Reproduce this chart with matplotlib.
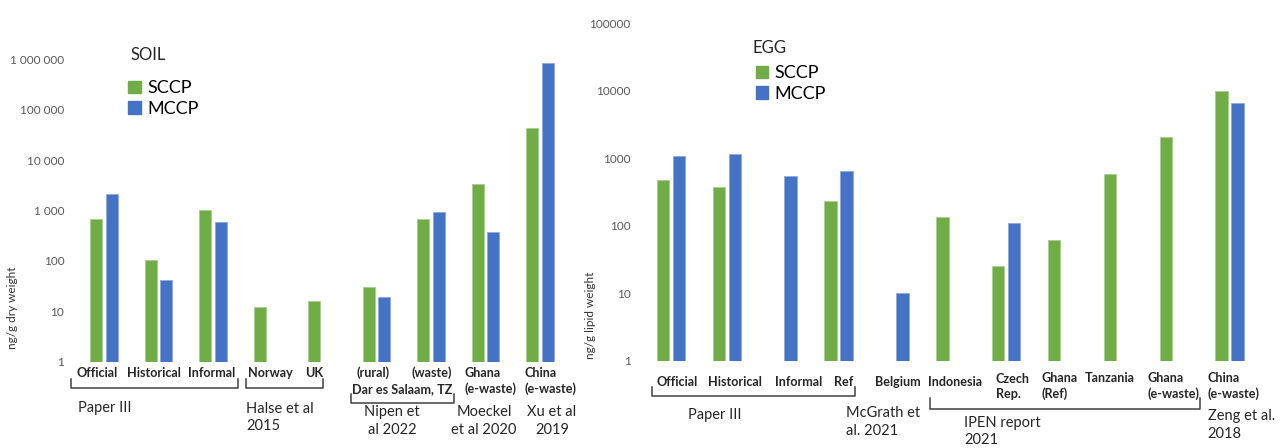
import numpy as np
import matplotlib
matplotlib.use('Agg')
import matplotlib.pyplot as plt
from matplotlib.patches import Patch
from matplotlib.transforms import blended_transform_factory

plt.rcParams['font.family'] = ['Lato', 'DejaVu Sans']

GREEN = '#70AD47'
BLUE = '#4472C4'
GREY = '#595959'
DARK = '#262626'

# soil concentrations, ng/g dry weight
soil_sites = ['Official', 'Historical', 'Informal', 'Norway', 'UK',
              '(rural)', '(waste)', 'Ghana\n(e-waste)', 'China\n(e-waste)']
soil_sccp = [690, 104, 1000, 12, 16, 31, 670, 3300, 43000]
soil_mccp = [2100, 42, 585, np.nan, np.nan, 19, 950, 380, 855000]
soil_ticks = [1, 10, 100, 1000, 10000, 100000, 1000000]
soil_ticklabels = ['1', '10', '100', '1 000', '10 000', '100 000', '1 000 000']

# egg concentrations, ng/g lipid weight
egg_sites = ['Official', 'Historical', 'Informal', 'Ref', 'Belgium', 'Indonesia',
             'Czech\nRep.', 'Ghana\n(Ref)', 'Tanzania', 'Ghana\n(e-waste)',
             'China\n(e-waste)']
egg_sccp = [475, 370, np.nan, 235, np.nan, 134, 25, 61, 590, 2040, 10000]
egg_mccp = [1080, 1170, 550, 640, 10, np.nan, 110, np.nan, np.nan, np.nan, 6600]
egg_ticks = [1, 10, 100, 1000, 10000, 100000]
egg_ticklabels = ['1', '10', '100', '1000', '10000', '100000']

W, H = 1280, 448
fig = plt.figure(figsize=(W / 100, H / 100), dpi=100)
ax1 = fig.add_axes([76.75 / W, (H - 361.7) / H, 490.5 / W, 302.4 / H])
ax2 = fig.add_axes([643.1 / W, (H - 360.7) / H, 614.35 / W, 337.4 / H])


def draw_bars(ax, sccp, mccp, ticks, ticklabels, ymax):
    x = np.arange(len(sccp))
    ax.bar(x - 0.142, sccp, width=0.222, color=GREEN, edgecolor='#a9cf8f', linewidth=0.6)
    ax.bar(x + 0.142, mccp, width=0.222, color=BLUE, edgecolor='#8fa9dc', linewidth=0.6)
    ax.set_yscale('log')
    ax.set_ylim(1, ymax)
    ax.set_xlim(-0.5, len(sccp) - 0.5)
    ax.set_yticks(ticks)
    ax.set_yticklabels(ticklabels)
    ax.minorticks_off()
    ax.set_xticks([])
    ax.tick_params(axis='y', length=0, pad=9, labelsize=8.5, labelcolor=GREY)
    for s in ax.spines.values():
        s.set_visible(False)
    ax.legend(handles=[Patch(color=GREEN, label='SCCP'), Patch(color=BLUE, label='MCCP')],
              frameon=False, fontsize=13, handlelength=0.7, handleheight=0.7,
              handletextpad=0.35, labelspacing=0.25, borderpad=0, borderaxespad=0,
              loc='upper left')


def bracket(ax, x0, x1, ytop, ybot):
    tr = blended_transform_factory(ax.transData, ax.transAxes)
    ax.plot([x0, x0, x1, x1], [ytop, ybot, ybot, ytop], color='#404040',
            lw=1.1, transform=tr, clip_on=False, solid_joinstyle='round')


def label(ax, x, y, s, ha='center', size=9.1, bold=True, color=DARK):
    tr = blended_transform_factory(ax.transData, ax.transAxes)
    ax.text(x, y, s, transform=tr, ha=ha, va='center', fontsize=size,
            fontweight='bold' if bold else 'normal', color=color,
            linespacing=1.3)


# ---- soil panel
draw_bars(ax1, soil_sccp, soil_mccp, soil_ticks, soil_ticklabels, 1e6)
ax1.get_legend().set_bbox_to_anchor((0.105, 0.93), transform=ax1.transAxes)
ax1.text(0.109, 1.014, 'SOIL', transform=ax1.transAxes, fontsize=12, va='center', color=DARK)
ax1.set_ylabel('ng/g dry weight', fontsize=8.5, color='#333333')
ax1.yaxis.set_label_coords(-0.12, 0.18)

for xp, s in zip([-0.13, 0.91, 1.97, 3.05, 3.85, 4.94, 6.02],
                 soil_sites[:7]):
    label(ax1, xp, -0.037, s)
label(ax1, 6.61, -0.065, soil_sites[7], ha='left')
label(ax1, 7.71, -0.065, soil_sites[8], ha='left')
label(ax1, 5.47, -0.091, 'Dar es Salaam, TZ')

bracket(ax1, -0.606, 2.45, -0.057, -0.087)
bracket(ax1, 2.61, 4.02, -0.057, -0.087)
bracket(ax1, 4.54, 6.42, -0.107, -0.137)

label(ax1, -0.48, -0.153, 'Paper III', ha='left', size=10.5, bold=False)
label(ax1, 2.61, -0.185, 'Halse et al\n2015', ha='left', size=10.5, bold=False)
label(ax1, 5.29, -0.196, 'Nipen et\nal 2022', size=10.5, bold=False)
label(ax1, 6.97, -0.196, 'Moeckel\net al 2020', size=10.5, bold=False)
label(ax1, 8.22, -0.196, 'Xu et al\n2019', size=10.5, bold=False)

# ---- egg panel
draw_bars(ax2, egg_sccp, egg_mccp, egg_ticks, egg_ticklabels, 1e5)
ax2.get_legend().set_bbox_to_anchor((0.183, 0.875), transform=ax2.transAxes)
ax2.text(0.178, 0.928, 'EGG', transform=ax2.transAxes, fontsize=12, va='center', color=DARK)
ax2.set_ylabel('ng/g lipid weight', fontsize=8.5, color='#333333')
ax2.yaxis.set_label_coords(-0.077, 0.135)

for xp, s in zip([0.107, 1.146, 2.29, 3.09, 4.06, 5.08],
                 egg_sites[:6]):
    label(ax2, xp, -0.062, s)
label(ax2, 7.86, -0.051, egg_sites[8])
for xp, i in zip([5.81, 6.64, 8.54, 9.61], [6, 7, 9, 10]):
    label(ax2, xp, -0.076, egg_sites[i], ha='left')

bracket(ax2, -0.34, 3.29, -0.077, -0.104)
bracket(ax2, 4.64, 9.48, -0.11, -0.144)

label(ax2, 0.79, -0.161, 'Paper III', size=10.5, bold=False)
label(ax2, 3.13, -0.182, 'McGrath et\nal. 2021', ha='left', size=10.5, bold=False)
label(ax2, 5.25, -0.210, 'IPEN report\n2021', ha='left', size=10.5, bold=False)
label(ax2, 9.61, -0.191, 'Zeng et al.\n2018', ha='left', size=10.5, bold=False)

fig.savefig('out.png', dpi=100)
